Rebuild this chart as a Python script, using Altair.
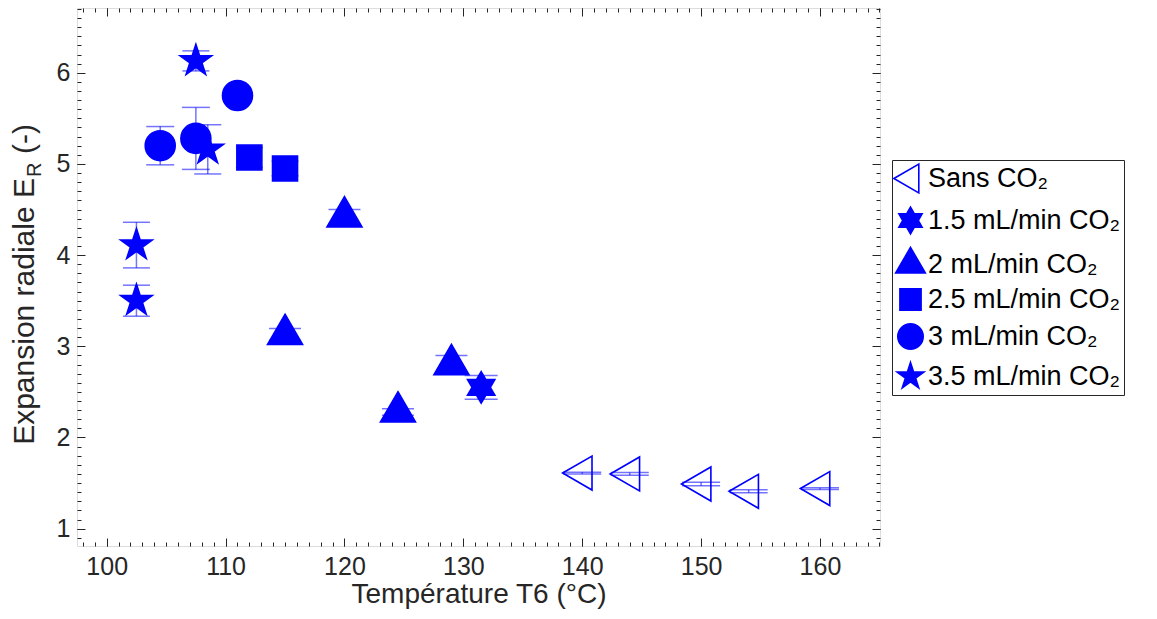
import math
import altair as alt
import pandas as pd

# ---------------- data ----------------
series = ["Sans CO₂", "1.5 mL/min CO₂", "2 mL/min CO₂", "2.5 mL/min CO₂", "3 mL/min CO₂", "3.5 mL/min CO₂"]

sans_T = [140.0, 144.0, 150.0, 154.0, 160.0]
sans_E = [1.61, 1.60, 1.49, 1.41, 1.44]
sans_err = [0.01, 0.015, 0.018, 0.016, 0.01]

r15_T = [131.5]
r15_E = [2.55]
r15_err = [0.13]

r2_T = [115.0, 120.0, 124.5, 129.0]
r2_E = [3.13, 4.42, 2.28, 2.80]
r2_err = [0.065, 0.08, 0.035, 0.10]

r25_T = [112.0, 115.0]
r25_E = [5.07, 4.95]
r25_err = [0.11, 0.08]

r3_T = [104.5, 107.5, 111.0]
r3_E = [5.20, 5.28, 5.75]
r3_err = [0.21, 0.34, 0.05]

r35_T = [102.5, 102.5, 107.5, 108.5]
r35_E = [4.11, 3.50, 6.13, 5.16]
r35_err = [0.25, 0.17, 0.11, 0.27]

x_major = [100, 110, 120, 130, 140, 150, 160]
y_major = [1, 2, 3, 4, 5, 6]
x_minor = list(range(98, 166))
y_minor = [round(0.9 + 0.1 * i, 1) for i in range(59)]

X_DOMAIN = [97.5, 165.05]
Y_DOMAIN = [0.81, 6.71]

# ---------------- styles ----------------
BLUE = "#0000ff"
INK = "#262626"
FONT = "Liberation Sans"
cap_px = {series[0]: 38, series[1]: 33, series[2]: 32, series[3]: 27, series[4]: 28, series[5]: 27}


def poly(pts):
    return "M" + " L".join(f"{x:.3f},{y:.3f}" for x, y in pts) + " Z"


def star(n, R, r):
    pts = []
    for k in range(2 * n):
        a = math.radians(-90 + 180.0 / n * k)
        rad = R if k % 2 == 0 else r
        pts.append((rad * math.cos(a), rad * math.sin(a)))
    return poly(pts)


tri_left = poly([(-1.153, 0), (0.576, -1), (0.576, 1)])
tri_up = poly([(0, -1.188), (1.03, 0.594), (-1.03, 0.594)])
square = poly([(-0.735, -0.735), (0.735, -0.735), (0.735, 0.735), (-0.735, 0.735)])
c = 0.882
circle = f"M{c},0 A{c},{c} 0 1,1 {-c},0 A{c},{c} 0 1,1 {c},0 Z"
hexagram = star(6, 0.93, 0.537)
pentagram = star(5, 0.976, 0.373)
shapes = [tri_left, hexagram, tri_up, square, circle, pentagram]
fills = ["transparent", BLUE, BLUE, BLUE, BLUE, BLUE]
strokes = [BLUE] * 6

# ---------------- table ----------------
rows = []
for name, T, E, err in [
    (series[0], sans_T, sans_E, sans_err),
    (series[1], r15_T, r15_E, r15_err),
    (series[2], r2_T, r2_E, r2_err),
    (series[3], r25_T, r25_E, r25_err),
    (series[4], r3_T, r3_E, r3_err),
    (series[5], r35_T, r35_E, r35_err),
]:
    for t, e, d in zip(T, E, err):
        rows.append({"serie": name, "T": t, "E": e, "lo": e - d, "hi": e + d, "cap": cap_px[name]})
df = pd.DataFrame(rows)

xs = alt.Scale(domain=X_DOMAIN, nice=False, zero=False)
ys = alt.Scale(domain=Y_DOMAIN, nice=False, zero=False)


def tick_axis(orient, values, size, labels=False, **kw):
    return alt.Axis(orient=orient, values=values, tickSize=size, offset=-size, labels=labels,
                    domain=False, grid=False, tickColor=INK, tickWidth=1, title=None, **kw)


label_kw = dict(labelFont=FONT, labelFontSize=25, labelColor=INK)

ax_bottom = alt.Axis(orient="bottom", values=x_major, tickSize=8, offset=-8, labels=True, domain=False,
                     grid=False, tickColor=INK, tickWidth=1, labelPadding=8, title="Température T6 (°C)",
                     titleFont=FONT, titleFontSize=28, titleFontWeight="normal", titleColor=INK,
                     titlePadding=1, **label_kw)
ax_left = alt.Axis(orient="left", values=y_major, tickSize=8, offset=-8, labels=True, domain=False,
                   grid=False, tickColor=INK, tickWidth=1, labelPadding=7, title=None, **label_kw)

rules = alt.Chart(df).mark_rule(color=BLUE, opacity=0.55, strokeWidth=1.5).encode(
    x=alt.X("T:Q", scale=xs, axis=ax_bottom),
    y=alt.Y("lo:Q", scale=ys, axis=ax_left),
    y2="hi:Q",
)

caps_lo = alt.Chart(df).mark_tick(orient="horizontal", color=BLUE, opacity=0.55, thickness=1.5).encode(
    x=alt.X("T:Q", scale=xs, axis=tick_axis("bottom", x_minor, 4)),
    y=alt.Y("lo:Q", scale=ys, axis=tick_axis("left", y_minor, 4)),
    size=alt.Size("cap:Q", scale=None),
)

caps_hi = alt.Chart(df).mark_tick(orient="horizontal", color=BLUE, opacity=0.55, thickness=1.5).encode(
    x=alt.X("T:Q", scale=xs, axis=tick_axis("top", x_major, 8)),
    y=alt.Y("hi:Q", scale=ys, axis=tick_axis("right", y_major, 8)),
    size=alt.Size("cap:Q", scale=None),
)

legend = alt.Legend(title=None, orient="none", legendX=815, legendY=152, strokeColor=INK,
                    fillColor="white", padding=3, rowPadding=6, symbolSize=830,
                    symbolStrokeWidth=1.6, labelFont=FONT,
                    labelFontSize=27, labelColor="black", labelOffset=2, labelLimit=400)

points = alt.Chart(df).mark_point(size=1156, strokeWidth=1.6, opacity=1, fillOpacity=1).encode(
    x=alt.X("T:Q", scale=xs, axis=tick_axis("top", x_minor, 4)),
    y=alt.Y("E:Q", scale=ys, axis=tick_axis("right", y_minor, 4)),
    shape=alt.Shape("serie:N", scale=alt.Scale(domain=series, range=shapes), legend=legend),
    fill=alt.Fill("serie:N", scale=alt.Scale(domain=series, range=fills), legend=legend),
    stroke=alt.Stroke("serie:N", scale=alt.Scale(domain=series, range=strokes), legend=legend),
)

# y-axis title with subscript, built from three text pieces
ytitle_df = pd.DataFrame({"a": ["Expansion radiale E"], "b": ["R"], "c": ["(-)"]})
yt1 = alt.Chart(ytitle_df).mark_text(angle=270, align="right", baseline="alphabetic", font=FONT,
                                     fontSize=30, color=INK).encode(
    x=alt.value(-43), y=alt.value(170), text="a:N")
yt2 = alt.Chart(ytitle_df).mark_text(angle=270, align="left", baseline="alphabetic", font=FONT,
                                     fontSize=20, color=INK).encode(
    x=alt.value(-36), y=alt.value(169), text="b:N")
yt3 = alt.Chart(ytitle_df).mark_text(angle=270, align="left", baseline="alphabetic", font=FONT,
                                     fontSize=30, color=INK).encode(
    x=alt.value(-43), y=alt.value(146), text="c:N")

chart = alt.layer(rules, caps_lo, caps_hi, points, yt1, yt2, yt3).resolve_axis(
    x="independent", y="independent"
).properties(
    width=803, height=538,
    autosize=alt.AutoSizeParams(type="none"),
    padding={"left": 69, "right": 260, "top": 0, "bottom": 66},
).configure_view(stroke=INK, strokeWidth=1.2).configure(background="white")

chart.save("out.html", embed_options={"renderer": "svg", "actions": False})
